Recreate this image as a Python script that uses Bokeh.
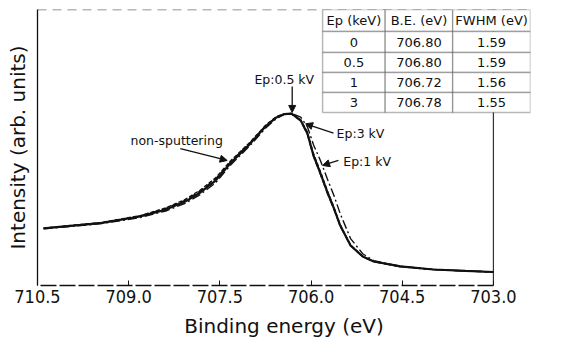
from bokeh.plotting import figure
from bokeh.models import (Range1d, FixedTicker, Label, Arrow, NormalHead,
                          BoxAnnotation, Span)
from bokeh.embed import file_html
from bokeh.resources import INLINE

# ---------------- data ----------------
binding_energy = [710.40, 709.46, 708.81, 708.39, 708.07, 707.82, 707.57, 707.33,
                  707.00, 706.75, 706.57, 706.44, 706.32, 706.17, 706.06, 705.96,
                  705.85, 705.73, 705.63, 705.52, 705.35, 705.15, 704.97, 704.53,
                  703.99, 703.46, 703.00]

int_non_sputter = [0.207, 0.226, 0.250, 0.275, 0.304, 0.337, 0.380, 0.442, 0.514,
                   0.576, 0.609, 0.621, 0.623, 0.598, 0.551, 0.471, 0.409, 0.337,
                   0.283, 0.217, 0.145, 0.105, 0.087, 0.069, 0.058, 0.053, 0.049]
int_ep05 = [0.207, 0.227, 0.252, 0.279, 0.309, 0.343, 0.386, 0.447, 0.518,
            0.578, 0.610, 0.620, 0.621, 0.596, 0.548, 0.468, 0.405, 0.333,
            0.280, 0.215, 0.144, 0.104, 0.086, 0.068, 0.058, 0.052, 0.049]
int_ep1 = [0.205, 0.224, 0.246, 0.270, 0.298, 0.330, 0.372, 0.435, 0.508,
           0.570, 0.605, 0.620, 0.624, 0.610, 0.575, 0.510, 0.455, 0.385,
           0.330, 0.260, 0.170, 0.115, 0.090, 0.070, 0.058, 0.053, 0.049]
int_ep3 = [0.208, 0.228, 0.253, 0.281, 0.312, 0.346, 0.390, 0.450, 0.520,
           0.580, 0.612, 0.622, 0.622, 0.600, 0.556, 0.478, 0.415, 0.342,
           0.287, 0.220, 0.147, 0.106, 0.087, 0.069, 0.058, 0.053, 0.049]

x_ticks = [710.5, 709.0, 707.5, 706.0, 704.5, 703.0]

table_header = ["Ep (keV)", "B.E. (eV)", "FWHM (eV)"]
table_ep = ["0", "0.5", "1", "3"]
table_be = ["706.80", "706.80", "706.72", "706.78"]
table_fwhm = ["1.59", "1.59", "1.56", "1.55"]

# ---------------- figure ----------------
FONT = "DejaVu Sans"
TICK_FONT = "'Liberation Sans Narrow', 'DejaVu Sans Condensed', 'DejaVu Sans'"
INK = "#111111"

X_START, X_END = x_ticks[0], x_ticks[-1]
X_VIEW_END = 702.39          # frame extends right so the inset table can overhang

p = figure(width=562, height=341, output_backend="svg", toolbar_location=None,
           x_range=Range1d(X_START, X_VIEW_END), y_range=Range1d(0, 1),
           min_border_left=37, min_border_right=32, min_border_top=9,
           min_border_bottom=56)
p.grid.visible = False
p.background_fill_color = "white"
p.border_fill_color = "white"
p.outline_line_color = None

xa = p.xaxis[0]
xa.bounds = (X_END, X_START)
xa.ticker = FixedTicker(ticks=x_ticks)
xa.major_label_overrides = {t: f"{t:.1f}" for t in x_ticks}
xa.major_tick_in = 5
xa.major_tick_out = 0
xa.minor_tick_line_color = None
xa.axis_line_color = INK
xa.axis_line_width = 1.3
xa.axis_line_dash = "16 3"
xa.major_tick_line_color = INK
xa.major_label_text_font = TICK_FONT
xa.major_label_text_font_size = "18px"
xa.major_label_text_color = INK
xa.major_label_standoff = 4
xa.axis_label = "Binding energy (eV)"
xa.axis_label_text_font = FONT
xa.axis_label_text_font_size = "20px"
xa.axis_label_text_font_style = "normal"
xa.axis_label_text_color = INK
xa.axis_label_standoff = 8

ya = p.yaxis[0]
ya.ticker = FixedTicker(ticks=[])
ya.minor_tick_line_color = None
ya.major_tick_line_color = None
ya.major_label_text_font_size = "0px"
ya.axis_line_color = INK
ya.axis_line_width = 1.3
ya.axis_label = "Intensity (arb. units)"
ya.axis_label_text_font = FONT
ya.axis_label_text_font_size = "20px"
ya.axis_label_text_font_style = "normal"
ya.axis_label_text_color = INK
ya.axis_label_standoff = 8

# frame top and right edges
p.add_layout(Span(location=1.0, dimension="width", line_color=INK,
                  line_width=1.5, line_dash="9 6", line_alpha=0.6))
p.add_layout(Span(location=X_END, dimension="height", line_color=INK,
                  line_width=1.2, line_alpha=0.85))

# curves
p.line(binding_energy, int_ep3, line_color=INK, line_width=1.4, line_dash="4 2")
p.line(binding_energy, int_ep05, line_color=INK, line_width=1.4, line_dash="7 3")
p.line(binding_energy, int_ep1, line_color=INK, line_width=1.4, line_dash="9 3 2 3")
p.line(binding_energy, int_non_sputter, line_color=INK, line_width=2.2)

# annotations
def note(text, x, y, align="left"):
    p.add_layout(Label(x=x, y=y, text=text, text_font=FONT, text_font_size="12.5px",
                       text_color=INK, text_align=align, text_baseline="middle"))

def arrow(x0, y0, x1, y1):
    p.add_layout(Arrow(x_start=x0, y_start=y0, x_end=x1, y_end=y1,
                       line_color=INK, line_width=1.3,
                       end=NormalHead(size=7, fill_color=INK, line_color=INK)))

note("non-sputtering", 708.97, 0.525)
arrow(708.15, 0.496, 707.38, 0.453)
note("Ep:3 kV", 705.58, 0.551)
arrow(705.63, 0.552, 706.09, 0.586)
note("Ep:1 kV", 705.47, 0.449)
arrow(705.55, 0.453, 705.81, 0.435)
note("Ep:0.5 kV", 706.44, 0.746, align="center")
arrow(706.31, 0.721, 706.31, 0.627)

# inset table
col_edges = [705.81, 704.78, 703.67, 702.39]
row_edges = [1.0, 0.920, 0.844, 0.772, 0.699, 0.627]
rows = [table_header] + [[e, b, f] for e, b, f in zip(table_ep, table_be, table_fwhm)]
for r in range(len(rows)):
    for c in range(3):
        p.add_layout(BoxAnnotation(left=col_edges[c], right=col_edges[c + 1],
                                   top=row_edges[r], bottom=row_edges[r + 1],
                                   fill_color="white", fill_alpha=1.0,
                                   line_color=INK, line_width=1.5,
                                   level="annotation", editable=False))
        p.add_layout(Label(x=(col_edges[c] + col_edges[c + 1]) / 2,
                           y=(row_edges[r] + row_edges[r + 1]) / 2,
                           text=rows[r][c], text_font=FONT,
                           text_font_size="13px",
                           text_color=INK, text_align="center",
                           text_baseline="middle"))

open("out.html", "w").write(file_html(p, INLINE))
